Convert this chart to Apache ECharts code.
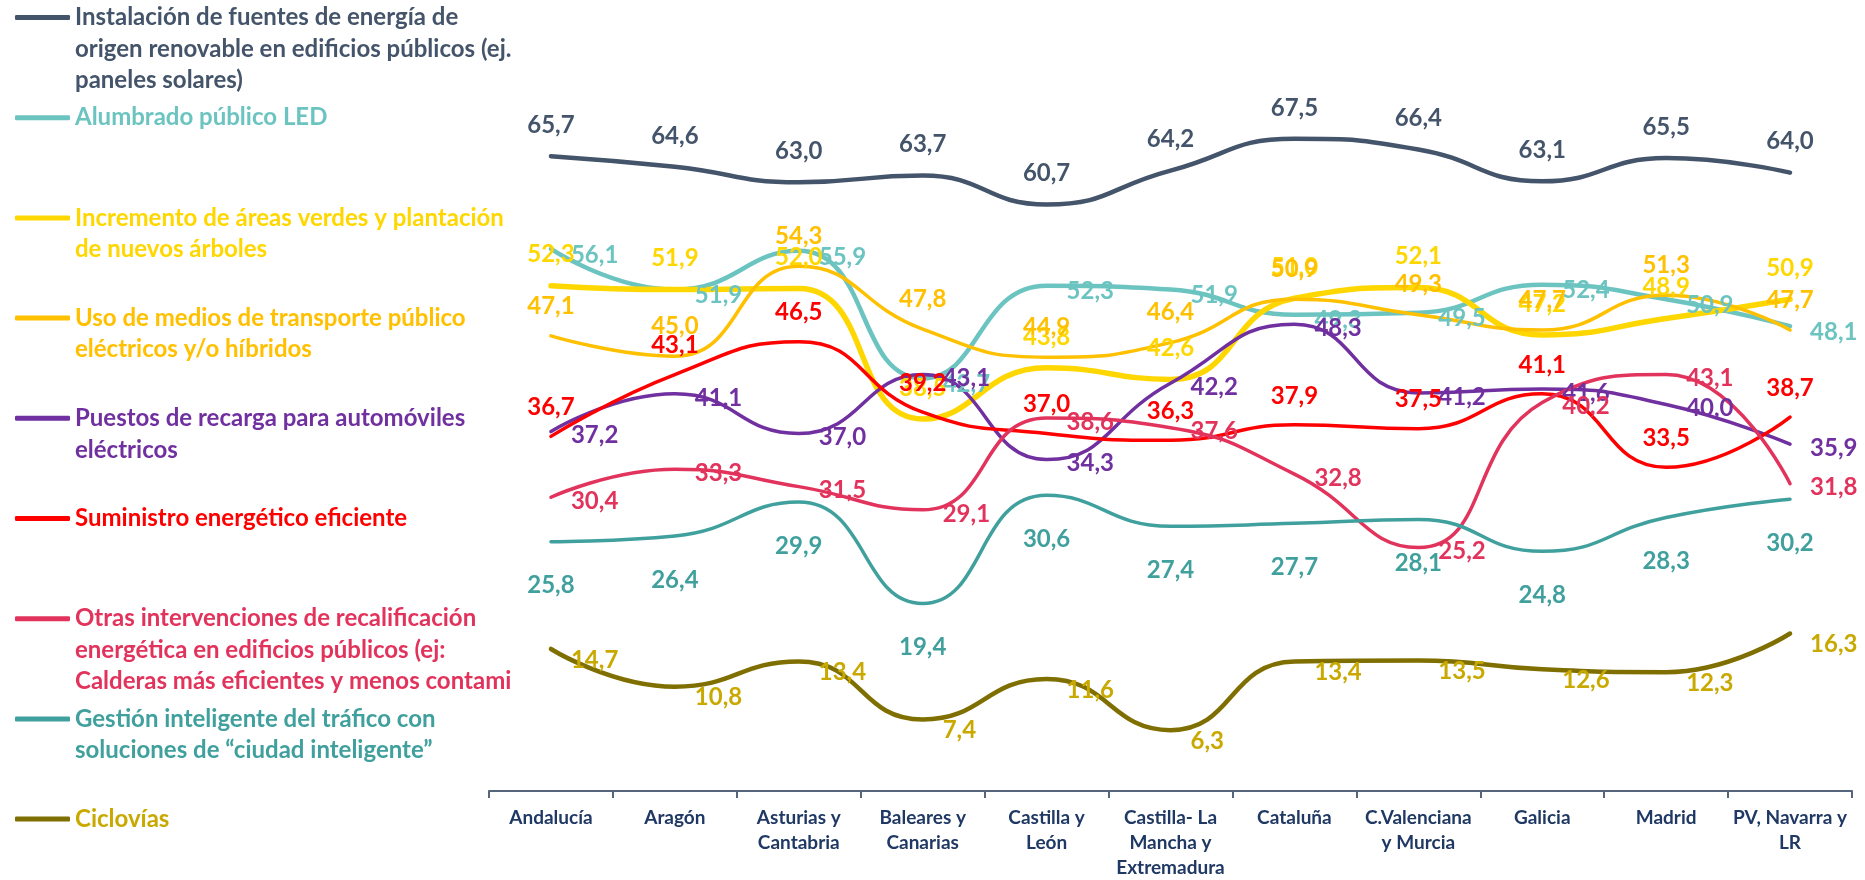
<!DOCTYPE html>
<html>
<head>
<meta charset="utf-8">
<script src="https://cdn.jsdelivr.net/npm/echarts@6/dist/echarts.min.js"></script>
<style>
  html, body { margin: 0; padding: 0; background: #ffffff; }
  #chart { width: 1865px; height: 880px; }
</style>
</head>
<body>
<div id="chart"></div>
<script>
// Regions (category axis)
const regions = [
  'Andalucía', 'Aragón', 'Asturias y\nCantabria', 'Baleares y\nCanarias', 'Castilla y\nLeón',
  'Castilla- La\nMancha y\nExtremadura', 'Cataluña', 'C.Valenciana\ny Murcia', 'Galicia', 'Madrid',
  'PV, Navarra y\nLR'
];

// Series names and their legend text (wrapped)
const seriesNames = [
  'Instalación de fuentes de energía de origen renovable en edificios públicos (ej. paneles solares)',
  'Alumbrado público LED',
  'Incremento de áreas verdes y plantación de nuevos árboles',
  'Uso de medios de transporte público eléctricos y/o híbridos',
  'Puestos de recarga para automóviles eléctricos',
  'Suministro energético eficiente',
  'Otras intervenciones de recalificación energética en edificios públicos (ej: Calderas más eficientes y menos contami',
  'Gestión inteligente del tráfico con soluciones de “ciudad inteligente”',
  'Ciclovías'
];
const legendLabels = [
  'Instalación de fuentes de energía de\norigen renovable en edificios públicos (ej.\npaneles solares)',
  'Alumbrado público LED',
  'Incremento de áreas verdes y plantación\nde nuevos árboles',
  'Uso de medios de transporte público\neléctricos y/o híbridos',
  'Puestos de recarga para automóviles\neléctricos',
  'Suministro energético eficiente',
  'Otras intervenciones de recalificación\nenergética en edificios públicos (ej:\nCalderas más eficientes y menos contami',
  'Gestión inteligente del tráfico con\nsoluciones de “ciudad inteligente”',
  'Ciclovías'
];

// Values (%)
const renovables   = [65.7, 64.6, 63.0, 63.7, 60.7, 64.2, 67.5, 66.4, 63.1, 65.5, 64.0];
const alumbrado    = [56.1, 51.9, 55.9, 42.7, 52.3, 51.9, 49.3, 49.5, 52.4, 50.9, 48.1];
const areasVerdes  = [52.3, 51.9, 52.0, 38.5, 43.8, 42.6, 51.0, 52.1, 47.2, 48.9, 50.9];
const transporte   = [47.1, 45.0, 54.3, 47.8, 44.9, 46.4, 50.9, 49.3, 47.7, 51.3, 47.7];
const recarga      = [37.2, 41.1, 37.0, 43.1, 34.3, 42.2, 48.3, 41.2, 41.6, 40.0, 35.9];
const suministro   = [36.7, 43.1, 46.5, 39.2, 37.0, 36.3, 37.9, 37.5, 41.1, 33.5, 38.7];
const recalific    = [30.4, 33.3, 31.5, 29.1, 38.6, 37.6, 32.8, 25.2, 40.2, 43.1, 31.8];
const trafico      = [25.8, 26.4, 29.9, 19.4, 30.6, 27.4, 27.7, 28.1, 24.8, 28.3, 30.2];
const ciclovias    = [14.7, 10.8, 13.4, 7.4, 11.6, 6.3, 13.4, 13.5, 12.6, 12.3, 16.3];

const seriesValues = [renovables, alumbrado, areasVerdes, transporte, recarga, suministro, recalific, trafico, ciclovias];

// Styling per series
const lineColors  = ['#44546A', '#6CC4C1', '#FFD700', '#FFC000', '#7030A0', '#FF0000', '#E2335C', '#40A09D', '#7F6F00'];
const textColors  = ['#44546A', '#6CC4C1', '#FFD700', '#FFC000', '#7030A0', '#FF0000', '#E2335C', '#40A09D', '#C9A900'];
const lineWidths  = [4.5, 4.5, 5.5, 3.5, 3.5, 3.5, 3.5, 3.5, 4.5];
const labelPlace  = [
  { position: 'top', distance: 19 },
  { position: 'right', distance: 20, offset: [0, 6] },
  { position: 'top', distance: 19 },
  { position: 'top', distance: 18 },
  { position: 'right', distance: 20, offset: [0, 4] },
  { position: 'top', distance: 17 },
  { position: 'right', distance: 20, offset: [0, 4] },
  { position: 'bottom', distance: 32 },
  { position: 'right', distance: 20, offset: [0, 11] }
];

const FONT = 'Lato, "Open Sans", sans-serif';
const fmt = v => v.toFixed(1).replace('.', ',');

const series = seriesNames.map((name, i) => ({
  name: name,
  type: 'line',
  data: seriesValues[i],
  smooth: 0.5,
  symbol: 'circle',
  symbolSize: 0,
  showSymbol: true,
  color: lineColors[i],
  itemStyle: { color: lineColors[i] },
  lineStyle: { color: lineColors[i], width: lineWidths[i], cap: 'round', join: 'round' },
  label: Object.assign({
    show: true,
    color: textColors[i],
    fontFamily: FONT,
    fontWeight: 'bold',
    fontSize: 24,
    formatter: p => fmt(p.value)
  }, labelPlace[i]),
  emphasis: { disabled: true }
}));

// Legend: one block per series, stacked down the left side.
// Leading blank lines keep the first text line level with the line icon.
const LEG_LINE = 31.5;
const legends = seriesNames.map((name, i) => {
  const n = legendLabels[i].split('\n').length;
  const iconY = 17.5 + 100.2 * i;
  return {
    data: [name],
    orient: 'vertical',
    left: 15,
    top: iconY - (2 * n - 1) * LEG_LINE / 2,
    padding: 0,
    icon: 'roundRect',
    itemWidth: 55,
    itemHeight: 5,
    selectedMode: false,
    itemStyle: { color: lineColors[i], opacity: 1 },
    formatter: () => '\n'.repeat(n - 1) + legendLabels[i],
    textStyle: {
      color: textColors[i],
      fontFamily: FONT,
      fontWeight: 'bold',
      fontSize: 24,
      lineHeight: LEG_LINE,
      backgroundColor: 'rgba(255,255,255,0)'
    }
  };
});

const chart = echarts.init(document.getElementById('chart'), null, { renderer: 'canvas' });
chart.setOption({
  animation: false,
  backgroundColor: '#ffffff',
  legend: legends,
  grid: { left: 489, right: 13, top: 18, bottom: 82, containLabel: false },
  xAxis: {
    type: 'category',
    data: regions,
    boundaryGap: true,
    axisLine: { show: true, lineStyle: { color: '#55657C', width: 2 } },
    axisTick: { show: true, interval: 0, alignWithLabel: false, length: 7, lineStyle: { color: '#55657C', width: 2 } },
    axisLabel: {
      interval: 0,
      color: '#1F3864',
      fontFamily: FONT,
      fontWeight: 'bold',
      fontSize: 19,
      lineHeight: 25,
      margin: 14
    },
    splitLine: { show: false }
  },
  yAxis: {
    type: 'value',
    min: 0,
    max: 80,
    interval: 10,
    show: false,
    splitLine: { show: false }
  },
  series: series
});
</script>
</body>
</html>
